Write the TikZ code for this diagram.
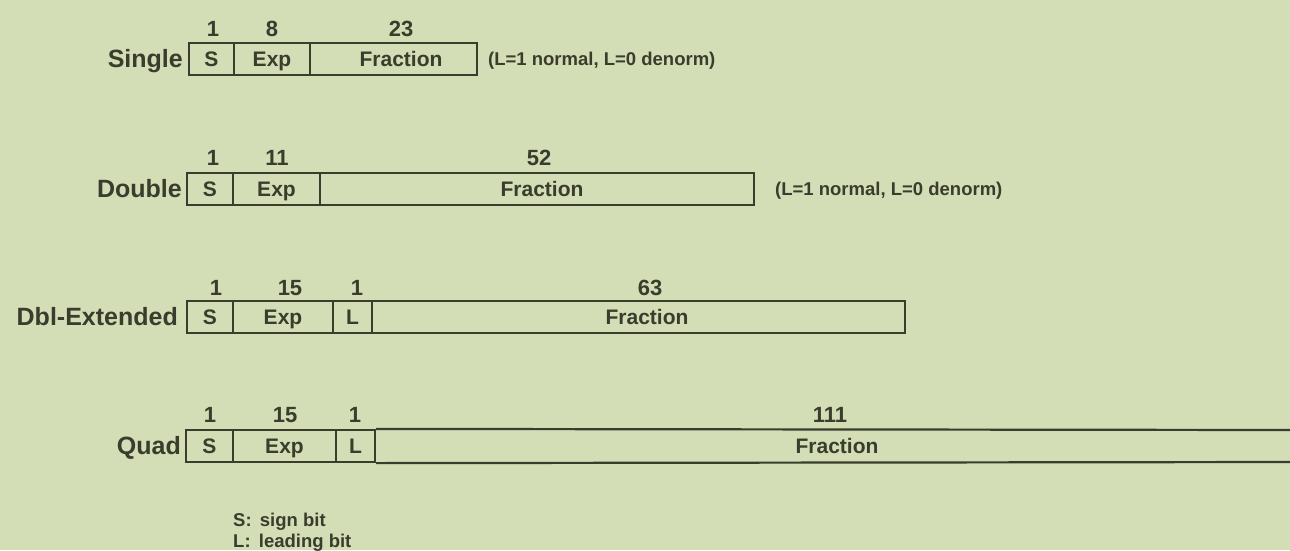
\documentclass[tikz,border=0pt]{standalone}
\usepackage{fontspec}
\setmainfont{Liberation Sans}
\definecolor{bg}{HTML}{D3DDB6}
\definecolor{ink}{HTML}{3A3C2C}
\begin{document}
\begin{tikzpicture}[x=1pt,y=-1pt,
  fld/.style={draw=ink, line width=2.2pt, minimum height=32pt, inner sep=0pt,
    font=\bfseries\fontsize{21}{21}\selectfont, text=ink, text height=15pt, text depth=0pt},
  txt/.style={font=\bfseries\fontsize{21}{21}\selectfont, text=ink, inner sep=0pt,
    text height=15pt, text depth=0pt},
  num/.style={font=\bfseries\fontsize{22}{22}\selectfont, text=ink, inner sep=0pt,
    text height=15.75pt, text depth=0pt},
  fmt/.style={font=\bfseries\fontsize{25}{25}\selectfont, text=ink, inner sep=0pt, anchor=east,
    text height=17.9pt, text depth=0pt},
  note/.style={font=\bfseries\fontsize{18.5}{18.5}\selectfont, text=ink, inner sep=0pt, anchor=west,
    text height=13.25pt, text depth=0pt},
  edge/.style={draw=ink, line width=2.2pt}]
\fill[bg] (0,0) rectangle (1290,550);
\useasboundingbox (0,0) rectangle (1290,550);

% Single
\node[fmt] (single) at (183,59) {Single};
\node[fld, minimum width=45pt] (s1) at (211.5,59) {S};
\node[fld, minimum width=76pt] (e1) at (272,59) {Exp};
\node[fld, minimum width=167pt] (f1) at (393.5,59) {};
\node[txt] (f1t) at (401,59) {Fraction};
\node[num] (n1a) at (213,29) {1};
\node[num] (n1b) at (272,29) {8};
\node[num] (n1c) at (401,29) {23};
\node[note] (note1) at (488,59) {(L=1 normal, L=0 denorm)};

% Double
\node[fmt] (double) at (182,189) {Double};
\node[fld, minimum width=46pt] (s2) at (210,189) {S};
\node[fld, minimum width=87pt] (e2) at (276.5,189) {Exp};
\node[fld, minimum width=434pt] (f2) at (537,189) {};
\node[txt] (f2t) at (542,189) {Fraction};
\node[num] (n2a) at (213,158) {1};
\node[num] (n2b) at (277,158) {11};
\node[num] (n2c) at (539,158) {52};
\node[note] (note2) at (775,189) {(L=1 normal, L=0 denorm)};

% Dbl-Extended
\node[fmt] (dblext) at (178,317) {Dbl-Extended};
\node[fld, minimum width=46pt] (s3) at (210,317) {S};
\node[fld, minimum width=100pt] (e3) at (283,317) {Exp};
\node[fld, minimum width=39pt] (l3) at (352.5,317) {L};
\node[fld, minimum width=533pt] (f3) at (638.5,317) {};
\node[txt] (f3t) at (647,317) {Fraction};
\node[num] (n3a) at (216,288) {1};
\node[num] (n3b) at (290,288) {15};
\node[num] (n3c) at (357,288) {1};
\node[num] (n3d) at (650,288) {63};

% Quad
\node[fmt] (quad) at (181,446) {Quad};
\node[fld, minimum width=47pt] (s4) at (209.5,446) {S};
\node[fld, minimum width=103pt] (e4) at (284.5,446) {Exp};
\node[fld, minimum width=39pt] (l4) at (355.5,446) {L};
\coordinate (q1) at (1290,430);
\coordinate (q2) at (1290,462);
\draw[edge] (l4.north east) -- (q1);
\draw[edge] (l4.south east) -- (q2);
\node[txt] (f4t) at (837,446) {Fraction};
\node[num] (n4a) at (210,415) {1};
\node[num] (n4b) at (285,415) {15};
\node[num] (n4c) at (355,415) {1};
\node[num] (n4d) at (830,415) {111};

% Legend
\node[note] (legS) at (233,520) {S:\, sign bit};
\node[note] (legL) at (233,541) {L:\, leading bit};
\end{tikzpicture}
\end{document}
